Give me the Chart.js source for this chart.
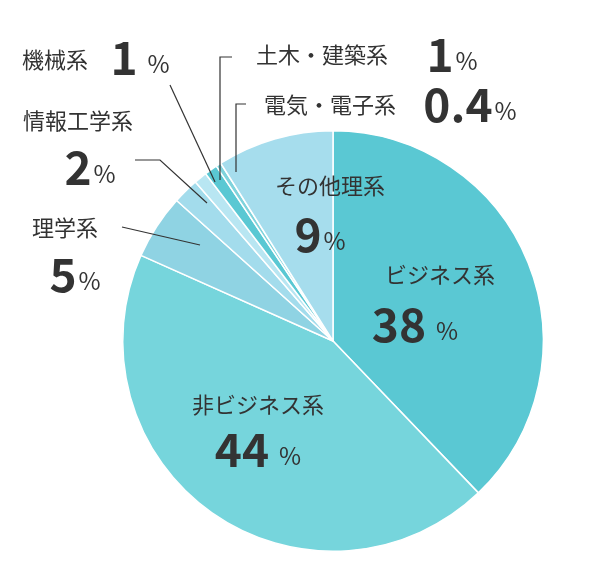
<!DOCTYPE html>
<html><head><meta charset="utf-8">
<script src="https://cdn.jsdelivr.net/npm/chart.js@4"></script>
<style>body{margin:0;background:#fff}#w{width:592px;height:568px}</style>
</head><body><div id="w"><canvas id="c"></canvas></div>
<script>
const categories=["ビジネス系","非ビジネス系","理学系","情報工学系","機械系","土木・建築系","電気・電子系","その他理系"];
const values=[38,44,5,2,1,1,0.4,9];
const valueLabels=["38","44","5","2","1","1","0.4","9"];
const colors=["#5ac8d3","#76d5dc","#8fd3e3","#a3dcec","#b8e6f2","#5ac8d3","#7fd3dc","#a6dded"];
const F='"Noto Sans CJK JP","Noto Sans",sans-serif';
// label layout: [nameX,nameY,numX,numY,align]
const layout=[
 [440,275,415,325,'center'],
 [258,405,258,450,'center'],
 [65,228,75,275,'center'],
 [78,121,90,168,'center'],
 [55,60,140,58,'center'],
 [322,55,452,55,'center'],
 [330,105,470,105,'center'],
 [330,186,320,235,'center']
];
const lines=[null,null,
 [[122,227],[200,245]],
 [[135,160],[160,160],[207,203]],
 [[170,85],[215,182]],
 [[232,57],[220,57],[220,180]],
 [[246,104],[236,104],[236,172]],
 null];
const labelPlugin={id:'lbl',afterDraw(ch){
 const c=ch.ctx;c.save();c.fillStyle='#333';c.strokeStyle='#333';c.lineWidth=1.2;
 lines.forEach(l=>{if(!l)return;c.beginPath();c.moveTo(l[0][0],l[0][1]);for(let i=1;i<l.length;i++)c.lineTo(l[i][0],l[i][1]);c.stroke();});
 c.textBaseline='middle';
 categories.forEach((n,i)=>{
  const L=layout[i];c.textAlign='center';c.font='22px '+F;c.fillText(n,L[0],L[1]);
  c.font='bold 46px '+F;const t=valueLabels[i];const w=c.measureText(t).width;
  c.font='24px '+F;const pw=c.measureText('%').width;const gap=i<2||i==4?10:2;
  const x0=L[2]-(w+gap+pw)/2;
  c.textAlign='left';c.font='bold 46px '+F;c.fillText(t,x0,L[3]);
  c.font='24px '+F;c.fillText('%',x0+w+gap,L[3]+6);
 });
 c.restore();}};
new Chart(document.getElementById('c'),{type:'pie',
 data:{labels:categories,datasets:[{data:values,backgroundColor:colors,borderColor:'#fff',borderWidth:1.5}]},
 options:{responsive:true,maintainAspectRatio:false,animation:false,
  layout:{padding:{left:122,right:48,top:130,bottom:16}},
  plugins:{legend:{display:false},tooltip:{enabled:false}}},
 plugins:[labelPlugin]});
</script></body></html>
